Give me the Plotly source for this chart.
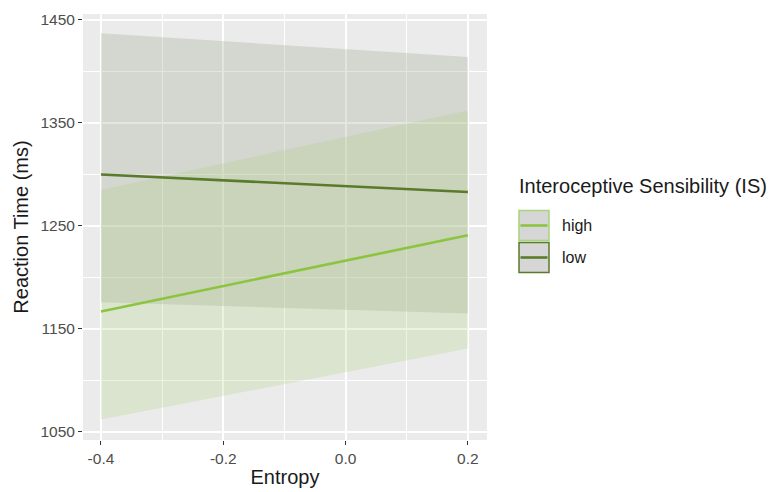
import plotly.graph_objects as go

# Data
entropy = [-0.4, 0.2]
groups = ["high", "low"]
high_fit = [1167, 1241]
high_lower = [1062, 1131]
high_upper = [1285, 1362]
low_fit = [1300, 1283]
low_lower = [1176, 1165]
low_upper = [1437, 1414]

line_colors = {"high": "#8cc43f", "low": "#5a7a2c"}
fill_colors = {"high": "rgba(165,205,110,0.22)", "low": "rgba(155,162,140,0.28)"}
border_colors = {"high": "#a8d47a", "low": "#5a7a2c"}

series = {
    "low": (low_fit, low_lower, low_upper),
    "high": (high_fit, high_lower, high_upper),
}

fig = go.Figure()
for g in ["low", "high"]:
    fit, lo, up = series[g]
    fig.add_trace(go.Scatter(
        x=entropy + entropy[::-1], y=up + lo[::-1],
        fill="toself", fillcolor=fill_colors[g], mode="none",
        hoverinfo="skip", showlegend=False))
for g in ["low", "high"]:
    fit, lo, up = series[g]
    fig.add_trace(go.Scatter(
        x=entropy, y=fit, mode="lines",
        line=dict(color=line_colors[g], width=2.6),
        name=g, showlegend=False))

# panel geometry (pixels)
L, R, T, B = 83, 487, 14, 440
W, H = 776, 492

def px(x):
    return (x - L) / (R - L)

def py(y):
    return (B - y) / (B - T)

shapes = []
annotations = []
key_x0, key_x1 = 519, 549
key_tops = {"high": 210.5, "low": 242.5}
for g in groups:
    t = key_tops[g]
    shapes.append(dict(type="rect", xref="paper", yref="paper",
                       x0=px(key_x0), x1=px(key_x1), y0=py(t + 30), y1=py(t),
                       fillcolor="#d6d6d6", line=dict(color=border_colors[g], width=1.5)))
    shapes.append(dict(type="line", xref="paper", yref="paper",
                       x0=px(key_x0 + 1.5), x1=px(key_x1 - 1.5), y0=py(t + 15), y1=py(t + 15),
                       line=dict(color=line_colors[g], width=2.6)))
    annotations.append(dict(xref="paper", yref="paper", x=px(560), y=py(t + 15),
                            text=g, showarrow=False, xanchor="left", yanchor="middle",
                            font=dict(size=16, color="#1a1a1a")))
annotations.append(dict(xref="paper", yref="paper", x=px(517), y=py(186),
                        text="Interoceptive Sensibility (IS)", showarrow=False,
                        xanchor="left", yanchor="middle",
                        font=dict(size=20, color="#1a1a1a")))

fig.update_layout(
    width=W, height=H,
    margin=dict(l=L, r=W - R, t=T, b=H - B, autoexpand=False),
    paper_bgcolor="white", plot_bgcolor="#ebebeb",
    font=dict(family="Liberation Sans, Arial, sans-serif", size=15, color="#4d4d4d"),
    shapes=shapes, annotations=annotations,
    showlegend=False,
)
fig.update_xaxes(
    range=[-0.4294, 0.2313], automargin=False,
    tickvals=[-0.4, -0.2, 0.0, 0.2], ticktext=["-0.4", "-0.2", "0.0", "0.2"],
    showgrid=True, gridcolor="white", gridwidth=1.6,
    minor=dict(tickvals=[-0.3, -0.1, 0.1], showgrid=True, gridcolor="white", gridwidth=0.8, ticklen=0),
    ticks="outside", ticklen=4, tickcolor="#333333", tickwidth=1.2,
    tickfont=dict(size=15.5, color="#4d4d4d"),
    zeroline=False, showline=False,
    title=dict(text="Entropy", font=dict(size=20, color="#1a1a1a"), standoff=4),
)
fig.update_yaxes(
    range=[1042.2, 1455.8], automargin=False,
    tickvals=[1050, 1150, 1250, 1350, 1450],
    showgrid=True, gridcolor="white", gridwidth=1.6,
    minor=dict(tickvals=[1100, 1200, 1300, 1400], showgrid=True, gridcolor="white", gridwidth=0.8, ticklen=0),
    ticks="outside", ticklen=4, tickcolor="#333333", tickwidth=1.2,
    tickfont=dict(size=15.5, color="#4d4d4d"),
    zeroline=False, showline=False,
    title=dict(text="Reaction Time (ms)", font=dict(size=20, color="#1a1a1a"), standoff=6),
)

fig.write_html("out.html", config={"displayModeBar": False},
               post_script="document.body.style.margin='0px';document.body.style.overflow='hidden';")
